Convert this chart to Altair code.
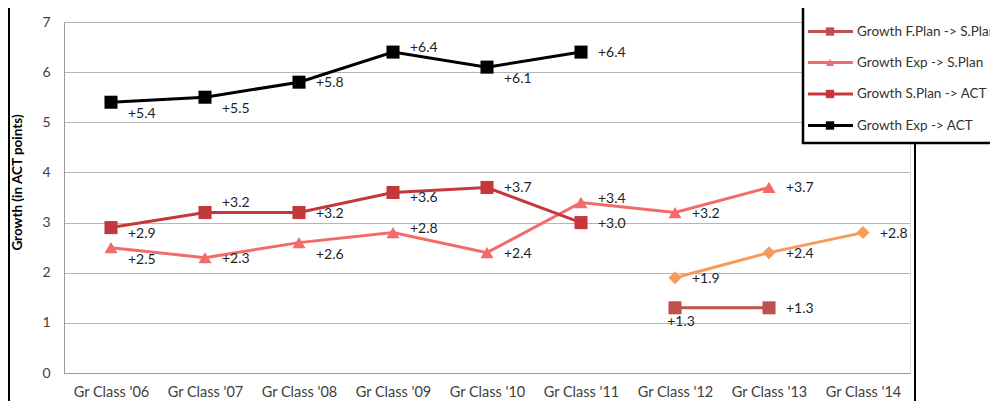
import altair as alt
import pandas as pd

classes = ["Gr Class '06", "Gr Class '07", "Gr Class '08", "Gr Class '09", "Gr Class '10",
           "Gr Class '11", "Gr Class '12", "Gr Class '13", "Gr Class '14"]
series_names = ["Growth Exp ->F.Plan", "Growth F.Plan -> S.Plan", "Growth Exp -> S.Plan",
                "Growth S.Plan -> ACT", "Growth Exp -> ACT"]
exp_fplan = [None, None, None, None, None, None, 1.9, 2.4, 2.8]
fplan_splan = [None, None, None, None, None, None, 1.3, 1.3, None]
exp_splan = [2.5, 2.3, 2.6, 2.8, 2.4, 3.4, 3.2, 3.7, None]
splan_act = [2.9, 3.2, 3.2, 3.6, 3.7, 3.0, None, None, None]
exp_act = [5.4, 5.5, 5.8, 6.4, 6.1, 6.4, None, None, None]
y_ticks = [0, 1, 2, 3, 4, 5, 6, 7]

# styles
colors = ["#F79A5B", "#C0504D", "#F26B6B", "#C4373A", "#000000"]
shapes = ["diamond", "square", "triangle-up", "square", "square"]
label_pos = {
    "Growth Exp ->F.Plan": [None] * 6 + ["r", "r", "r"],
    "Growth F.Plan -> S.Plan": [None] * 6 + ["b", "r", None],
    "Growth Exp -> S.Plan": ["br", "r", "br", "ru", "r", "ru", "r", "r", None],
    "Growth S.Plan -> ACT": ["rl", "ar", "r", "rl", "r", "r", None, None, None],
    "Growth Exp -> ACT": ["br", "br", "r", "ru", "br", "r", None, None, None],
}
pos_offsets = {"r": (17, 1, "left"), "rl": (17, 6, "left"), "ru": (17, -4, "left"),
               "br": (17, 12, "left"), "ar": (17, -10, "left"), "b": (6, 14, "center")}

rows = []
for name, vals in zip(series_names, [exp_fplan, fplan_splan, exp_splan, splan_act, exp_act]):
    for c, v, p in zip(classes, vals, label_pos[name]):
        if v is not None:
            rows.append({"cls": c, "series": name, "value": v, "pos": p, "label": f"+{v:.1f}"})
df = pd.DataFrame(rows)

FONT = "Lato"
xenc = alt.X("cls:N", sort=classes,
             scale=alt.Scale(type="point", domain=classes, padding=0.5),
             axis=alt.Axis(title=None, labelAngle=0, ticks=False, domain=True, domainColor="#9a9a9a",
                           labelFont=FONT, labelFontSize=14.5, labelColor="#404040", labelPadding=12,
                           grid=False))
yenc = alt.Y("value:Q", scale=alt.Scale(domain=[0, 7], nice=False),
             axis=alt.Axis(values=y_ticks, title="Growth (in ACT points)", grid=True,
                           gridColor="#b5b5b5", gridWidth=1, domain=True, domainColor="#9a9a9a",
                           ticks=False, labelFont=FONT, labelFontSize=14, labelColor="#404040",
                           labelPadding=14, titleFont=FONT, titleFontSize=13.5, titleFontWeight="bold",
                           titleColor="#000000", titleX=-47, titleY=160, titleAngle=270,
                           titleBaseline="middle", titleAlign="center"))
color = alt.Color("series:N", scale=alt.Scale(domain=series_names, range=colors), legend=None)
shape = alt.Shape("series:N", scale=alt.Scale(domain=series_names, range=shapes), legend=None)

base = alt.Chart(df)
lines = base.mark_line(strokeWidth=3).encode(x=xenc, y=yenc, color=color, detail="series:N")
points = base.mark_point(filled=True, size=170, opacity=1).encode(x=xenc, y=yenc, color=color, shape=shape)

layers = [lines, points]
for code, (dx, dy, al) in pos_offsets.items():
    layers.append(
        base.transform_filter(alt.datum.pos == code)
        .mark_text(dx=dx, dy=dy, align=al, baseline="middle", font=FONT, fontSize=14, color="#1e1e2a")
        .encode(x=xenc, y=yenc, text="label:N")
    )

one = alt.Chart(pd.DataFrame({"a": [0]}))
# outer chart border
layers.append(one.mark_rule(color="black", strokeWidth=2).encode(
    x=alt.value(-55), y=alt.value(-14), y2=alt.value(380)))
layers.append(one.mark_rule(color="black", strokeWidth=2).encode(
    x=alt.value(851), y=alt.value(121), y2=alt.value(380)))
# legend box
layers.append(one.mark_rect(fill="white", stroke="black", strokeWidth=2.5).encode(
    x=alt.value(739), x2=alt.value(960), y=alt.value(-40), y2=alt.value(121)))
leg_y = [-21.5, 9.5, 40.5, 72, 103.5]
for name, col, shp, ly in zip(series_names, colors, shapes, leg_y):
    layers.append(one.mark_rule(color=col, strokeWidth=3).encode(
        x=alt.value(744), x2=alt.value(789), y=alt.value(ly)))
    layers.append(one.mark_point(shape=shp, filled=True, size=70, color=col, opacity=1).encode(
        x=alt.value(766), y=alt.value(ly)))
    layers.append(one.mark_text(text=name, align="left", baseline="middle", font=FONT,
                                fontSize=13.5, color="#333333").encode(
        x=alt.value(793), y=alt.value(ly)))

chart = alt.layer(*layers).properties(
    width=846, height=351,
    autosize=alt.AutoSizeParams(type="none"),
    padding={"left": 56, "top": 14, "right": 80, "bottom": 28},
).configure_view(stroke=None).configure(font=FONT)

chart.save("out.html", embed_options={"renderer": "svg", "actions": False})
